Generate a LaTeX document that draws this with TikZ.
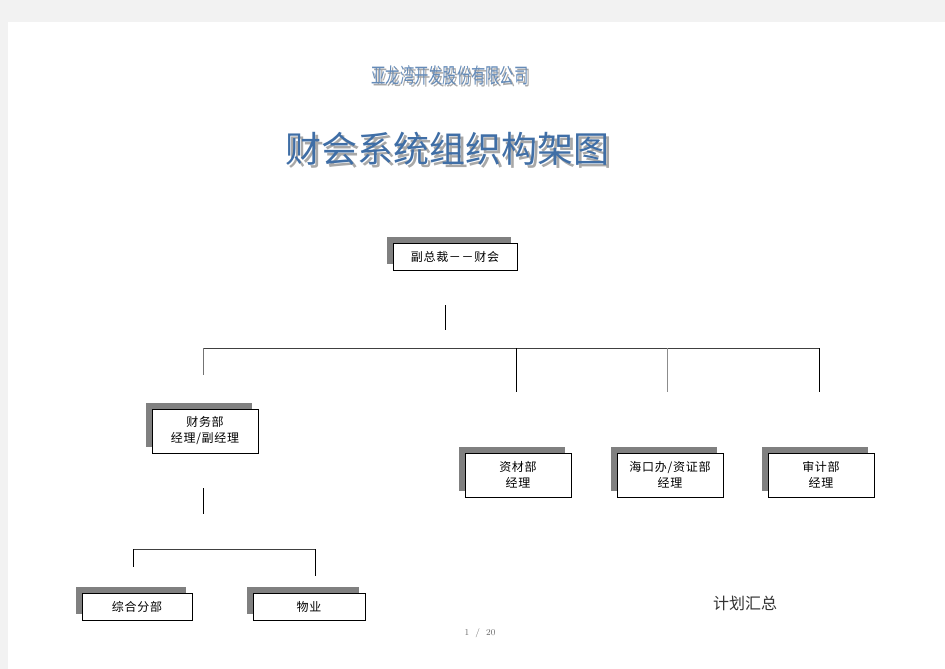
\documentclass[tikz,border=0pt]{standalone}
\usepackage{fontspec}
\newfontfamily\cjk[LetterSpace=6]{Noto Sans CJK SC}
\newfontfamily\cjkt{Noto Sans CJK SC}
\usepackage{tikz}
\usetikzlibrary{positioning, shadows}
\definecolor{artblue}{HTML}{3F6EA6}
\definecolor{artgray}{HTML}{A8A8A8}
\definecolor{shade}{HTML}{808080}
\tikzset{B/.style={draw, fill=white, line width=0.8pt, align=center, inner sep=0pt,
  font=\cjk\fontsize{12}{16}\selectfont,
  drop shadow={shadow xshift=-6pt, shadow yshift=6pt, fill=shade, opacity=1}}}
\tikzset{BW/.style={B, minimum width=106pt, minimum height=44pt}}
\tikzset{BL/.style={B, minimum width=110pt, minimum height=27pt}}
\tikzset{L/.style={draw=black, line width=0.8pt}}

\begin{document}
\begin{tikzpicture}[x=1pt, y=-1pt, -, semithick]
\useasboundingbox (0,0) rectangle (945,669);
\fill[black!5] (0,0) rectangle (945,669);
\fill[white] (8,22) rectangle (945,669);
% titles
\node (CoS) at (452,77) {\cjkt\fontsize{21}{21}\selectfont\color{artgray}\scalebox{0.68}[1]{亚龙湾开发股份有限公司}};
\node (Co) at (450,75) {\cjkt\fontsize{21}{21}\selectfont\color{artblue!80}\scalebox{0.68}[1]{亚龙湾开发股份有限公司}};
\node (TitS) at (450,152) {\cjkt\fontsize{36}{40}\selectfont\color{artgray}财会系统组织构架图};
\node (Tit) at (447,149) {\cjkt\fontsize{36}{40}\selectfont\color{artblue}财会系统组织构架图};
% boxes
\node (VP) [B, minimum width=124pt, minimum height=27pt] at (455,256.5) {副总裁－－财会};
\node (FIN) [BW] at (205,431) {财务部\\经理/副经理};
\node (MAT) [BW] at (518,475) {资材部\\经理};
\node (HK) [BW] at (670,475) {海口办/资证部\\经理};
\node (AUD) [BW] at (821,475) {审计部\\经理};
\node (GEN) [BL] at (137,606.5) {综合分部};
\node (PROP) [BL, minimum width=112pt] at (309,606.5) {物业};
\node (Sum) at (745,603) {\cjkt\fontsize{16}{18}\selectfont\color{black!80}计划汇总};
\node (Pg) at (480,633) {\fontsize{9}{10}\selectfont\color{black!60}1 \ / \ 20};
% connectors
\coordinate (v1) at (445,305);
\coordinate (v2) at (445,330);
\coordinate (h1) at (203,348);
\coordinate (h2) at (516,348);
\coordinate (h3) at (667,348);
\coordinate (h4) at (819,348);
\coordinate (d1) at (203,375);
\coordinate (d2) at (516,392);
\coordinate (d3) at (667,392);
\coordinate (d4) at (819,392);
\coordinate (f1) at (203,488);
\coordinate (f2) at (203,514);
\coordinate (g1) at (133,549);
\coordinate (g2) at (315,549);
\coordinate (e1) at (133,567);
\coordinate (e2) at (315,576);
%
\path (v1) edge[L] (v2);
\path (h1) edge[L, draw=black!75] (h4);
\path (h1) edge[L, draw=black!55] (d1);
\path (h2) edge[L] (d2);
\path (h3) edge[L, draw=black!45] (d3);
\path (h4) edge[L] (d4);
\path (f1) edge[L] (f2);
\path (g1) edge[L, draw=black!75] (g2);
\path (g1) edge[L] (e1);
\path (g2) edge[L] (e2);
\end{tikzpicture}
\end{document}
